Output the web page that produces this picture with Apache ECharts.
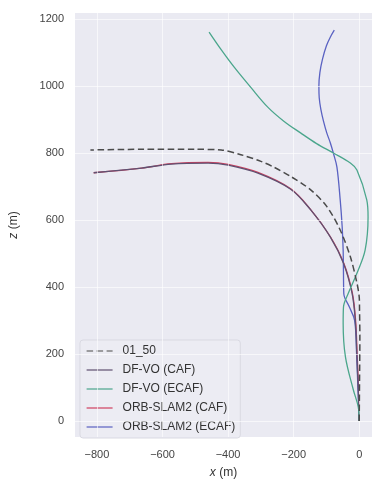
<!DOCTYPE html>
<html>
<head>
<meta charset="utf-8">
<script src="https://cdn.jsdelivr.net/npm/echarts@6/dist/echarts.min.js"></script>
<style>
  html, body { margin: 0; padding: 0; background: #ffffff; }
  #chart { width: 372px; height: 484px; }
</style>
</head>
<body>
<div id="chart"></div>
<script>
// Trajectory on sequence 01_50, top-down view (x, z in metres)
const seriesNames = ['01_50', 'DF-VO (CAF)', 'DF-VO (ECAF)', 'ORB-SLAM2 (CAF)', 'ORB-SLAM2 (ECAF)'];

const gtX = [0, 1, 2, 1, 0, -7, -27, -58, -98, -148, -209, -261, -300, -361, -421, -500, -664, -820];
const gtZ = [0, 120, 250, 330, 370, 412, 490, 570, 639, 690, 730, 758, 775, 795, 809, 811, 811, 809];

const dfCafX = [0, -3, -7, -12, -22, -48, -88, -148, -209, -309, -400, -461, -573, -664, -810];
const dfCafZ = [0, 93, 191, 300, 382, 471, 549, 630, 692, 740, 764, 770, 767, 755, 741];

const dfEcafX = [0, -3, -18, -42, -49, -48, -33, -7, 18, 27, 23, -7, -27, -79, -130, -179, -230, -279, -330, -382, -420, -458];
const dfEcafZ = [0, 42, 93, 191, 292, 340, 382, 441, 510, 609, 660, 749, 770, 800, 828, 860, 895, 937, 995, 1057, 1107, 1161];

const orbCafX = [0, -2, -6, -11, -21, -47, -88, -148, -209, -309, -400, -461, -573, -664, -810];
const orbCafZ = [0, 93, 191, 300, 382, 471, 550, 631, 693, 742, 766, 772, 768, 755, 741];

const orbEcafX = [0, -4, -8, -14, -30, -47, -48, -49, -52, -58, -68, -79, -88, -99, -109, -117, -122, -123, -120, -112, -100, -86, -76];
const orbEcafZ = [0, 100, 200, 300, 340, 380, 440, 510, 580, 660, 758, 800, 830, 860, 895, 930, 965, 1000, 1040, 1080, 1120, 1150, 1167];

const xTicks = [-800, -600, -400, -200, 0];
const zTicks = [0, 200, 400, 600, 800, 1000, 1200];

const colors = ['#4a4a4a', '#5f5171', '#4ba68c', '#d0405f', '#5a62c2'];

function zip(xs, zs) { return xs.map((x, i) => [x, zs[i]]); }

const tickText = v => String(v).replace('-', '\u2212');
const font = '"Liberation Sans", Arial, sans-serif';

const chart = echarts.init(document.getElementById('chart'), null, { renderer: 'canvas' });

const lineSeries = (i, xs, zs, extra) => Object.assign({
  name: seriesNames[i],
  type: 'line',
  data: zip(xs, zs),
  showSymbol: false,
  symbol: 'none',
  smooth: 0.35,
  color: colors[i],
  lineStyle: { color: colors[i], width: 1.3 },
  emphasis: { disabled: true },
  animation: false
}, extra || {});

chart.setOption({
  animation: false,
  textStyle: { fontFamily: font },
  grid: {
    left: 73, right: 0, top: 13, bottom: 47,
    show: true, backgroundColor: '#eaeaf2', borderWidth: 0
  },
  xAxis: {
    type: 'value',
    min: -867, max: 39,
    axisLine: { show: false },
    axisTick: { show: false },
    splitLine: { show: false },
    axisLabel: {
      customValues: xTicks,
      formatter: tickText,
      color: '#444', fontSize: 11, margin: 12, fontFamily: font
    },
    name: '{i|x} (m)',
    nameLocation: 'middle',
    nameGap: 30,
    nameTextStyle: {
      color: '#333', fontSize: 12, fontFamily: font,
      rich: { i: { fontStyle: 'italic', fontSize: 12, color: '#333', fontFamily: font } }
    }
  },
  yAxis: {
    type: 'value',
    min: -48, max: 1218,
    axisLine: { show: false },
    axisTick: { show: false },
    splitLine: { show: false },
    axisLabel: {
      customValues: zTicks,
      formatter: tickText,
      color: '#444', fontSize: 11, margin: 11, fontFamily: font
    },
    name: '{i|z} (m)',
    nameLocation: 'middle',
    nameGap: 55,
    nameRotate: 90,
    nameTextStyle: {
      color: '#333', fontSize: 12, fontFamily: font,
      rich: { i: { fontStyle: 'italic', fontSize: 12, color: '#333', fontFamily: font } }
    }
  },
  legend: {
    orient: 'vertical',
    left: 80, top: 340,
    padding: [5, 5, 5, 6],
    itemWidth: 26, itemHeight: 11, itemGap: 7,
    backgroundColor: '#ececf3',
    borderColor: '#d9d9e2', borderWidth: 1, borderRadius: 3,
    // line-only keys: hide the marker drawn in the middle of each key
    itemStyle: { opacity: 0 },
    lineStyle: { width: 1.2 },
    formatter: name => '{g|}' + name,
    textStyle: {
      color: '#333', fontSize: 12, fontFamily: font,
      rich: { g: { width: 5 } }
    },
    data: seriesNames,
    selectedMode: false
  },
  series: [
    // white grid lines at the tick positions
    {
      type: 'line', data: [], silent: true, z: 1,
      markLine: {
        silent: true, symbol: 'none', animation: false,
        label: { show: false },
        lineStyle: { color: '#ffffff', width: 1, type: 'solid', opacity: 0.6 },
        data: xTicks.map(v => ({ xAxis: v })).concat(zTicks.map(v => ({ yAxis: v })))
      }
    },
    lineSeries(0, gtX, gtZ, { z: 6, smooth: 0.3, lineStyle: { color: colors[0], width: 1.5, type: [6.5, 3.5] } }),
    lineSeries(3, orbCafX, orbCafZ, { z: 2 }),
    lineSeries(4, orbEcafX, orbEcafZ, { z: 3 }),
    lineSeries(1, dfCafX, dfCafZ, { z: 4 }),
    lineSeries(2, dfEcafX, dfEcafZ, { z: 5 })
  ]
});
</script>
</body>
</html>
